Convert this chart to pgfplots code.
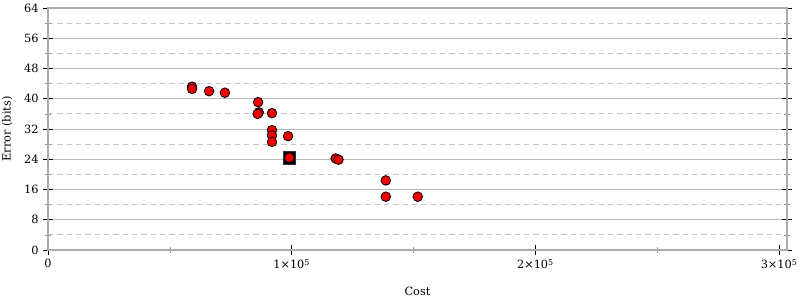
\documentclass[border=0pt]{standalone}
\usepackage{fontspec}
\setmainfont{DejaVu Serif}
\usepackage{pgfplots}
\pgfplotsset{compat=1.18}
\definecolor{mred}{RGB}{240,0,0}
\begin{document}
\fontsize{8.5}{10}\selectfont
\begin{tikzpicture}[x=0.75pt,y=0.75pt]
\begin{axis}[
  at={(0,0)}, anchor=south west,
  scale only axis, width=554.25pt, height=181.5pt,
  xmin=0, xmax=303200, ymin=0, ymax=64,
  /pgf/number format/assume math mode=true,
  xtick={0,100000,200000,300000},
  xticklabels={0,1×10\textsuperscript{5},2×10\textsuperscript{5},3×10\textsuperscript{5}},
  minor xtick={50000,150000,250000},
  ytick={0,8,...,64},
  minor ytick={4,12,...,60},
  scaled x ticks=false,
  tick label style={font=\fontsize{8.5}{10}\selectfont},
  xlabel={Cost}, ylabel={Error (bits)},
  label style={font=\fontsize{8.5}{10}\selectfont},
  xlabel style={yshift=-8pt},
  ylabel style={yshift=3pt},
  axis line style={gray!65, line width=1.4pt},
  ymajorgrids, yminorgrids,
  major grid style={gray!55, line width=0.6pt},
  minor grid style={gray!45, dashed, line width=0.6pt, dash pattern=on 4pt off 3pt},
  major tick length=8pt, minor tick length=4pt,
  tick align=center,
  major tick style={black, line width=0.6pt},
  minor tick style={gray!80, line width=0.5pt},
  xtick pos=bottom, ytick pos=both,
  clip=false,
]
\addplot[only marks, mark=square*, mark size=4.6pt, mark options={fill=black, draw=black!80}] coordinates {(99000,24.4)};
\addplot[only marks, mark=*, mark size=3.6pt, mark options={fill=mred, draw=black, line width=0.6pt}] coordinates {
(59100,43.2) (59100,42.6) (66100,42.0) (72600,41.6)
(86200,39.1) (86500,36.4) (86000,36.0) (91900,36.2)
(91900,31.7) (91900,30.3) (91900,28.6) (98500,30.1)
(118000,24.2) (119200,23.9)
(138600,18.4) (138600,14.1) (151700,14.1)
};
\addplot[only marks, mark=*, mark size=3.2pt, mark options={fill=mred, draw=mred!70!black, line width=0.3pt}] coordinates {(99000,24.4)};
\end{axis}
\pgfresetboundingbox
\path[use as bounding box] (-48,-50) rectangle (752,250);
\end{tikzpicture}
\end{document}
